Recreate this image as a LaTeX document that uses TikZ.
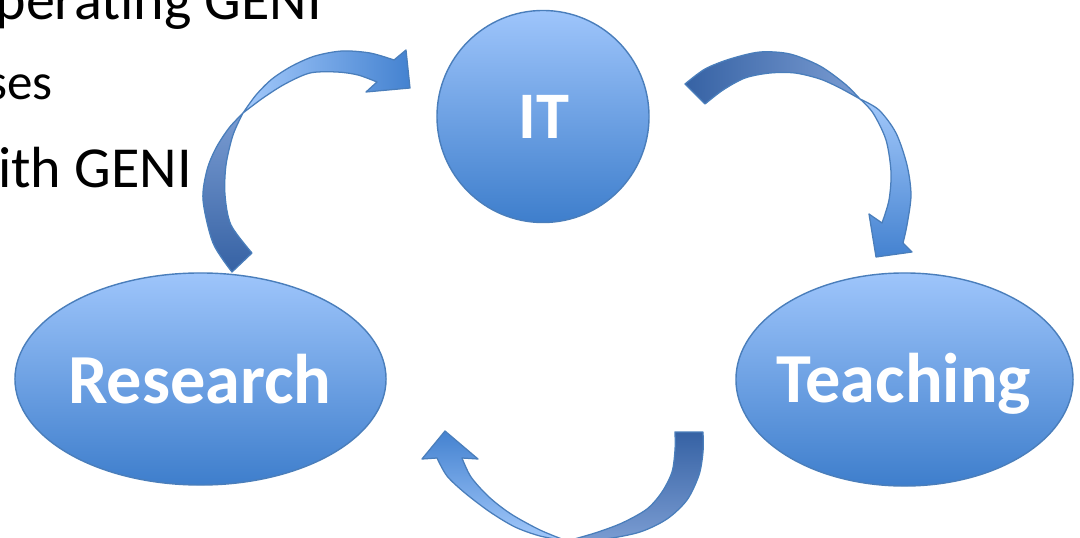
\documentclass[tikz,border=0pt]{standalone}
\usepackage{fontspec}
\setmainfont{Carlito}
\usetikzlibrary{shapes.geometric}

\definecolor{rimblue}{RGB}{74,126,187}
\definecolor{lightblue}{RGB}{158,197,251}
\definecolor{deepblue}{RGB}{62,126,204}
\definecolor{taildark}{RGB}{54,98,164}
\definecolor{headblue}{RGB}{68,130,208}
\definecolor{midgrey}{RGB}{122,156,210}
\definecolor{paleblue}{RGB}{163,201,251}

\begin{document}
\begin{tikzpicture}[x=0.025cm,y=-0.025cm,
  bubble/.style={draw=rimblue, line width=1pt, top color=lightblue,
    bottom color=deepblue, inner sep=0pt},
  bubbletext/.style={anchor=base, inner sep=0pt, text=white,
    font=\bfseries\fontsize{50}{50}\selectfont},
  lobe/.style={draw=rimblue, line width=0.9pt, line join=round},
  bodytext/.style={anchor=base east, inner sep=0pt, text=black},
  bigline/.style={bodytext, font=\fontsize{41.3}{42}\selectfont},
  subline/.style={bodytext, font=\fontsize{36.3}{37}\selectfont}]
\useasboundingbox (0,0) rectangle (1080,538);
\begin{scope}
\clip (0,0) rectangle (1080,538);

% bullet text of the slide behind the cycle
\node[bigline] (l1) at (322,20) {perating GENI};
\node[subline] (l2) at (53,100) {ses};
\node[bigline] (l3) at (192,188) {ith GENI};

% the three stations of the cycle
\node[bubble, circle, minimum size=5.3cm] (it) at (543,116.5) {};
\node[bubble, ellipse, minimum width=9.275cm, minimum height=5.3cm]
      (research) at (200.5,379) {};
\node[bubble, ellipse, minimum width=8.425cm, minimum height=5.325cm]
      (teaching) at (904.5,379.5) {};
\node[bubbletext, font=\bfseries\fontsize{47.3}{48}\selectfont] (itlabel) at (544,139) {IT};
\node[bubbletext] (researchlabel) at (200,403) {Research};
\node[bubbletext] (teachinglabel) at (904,402) {Teaching};

% Research -> IT : twisted ribbon arrow
\draw[lobe, top color=midgrey, bottom color=taildark]
  (232,272) -- plot[smooth] coordinates {(232,272) (213,243) (203,200) (207,170) (216,148) (229,128) (243,113)}
  -- plot[smooth] coordinates {(243,113) (233,135) (226,165) (225,195) (231,225) (252,253)} -- cycle;
\draw[lobe, left color=paleblue, right color=headblue]
  (243,113) -- plot[smooth] coordinates {(243,113) (256,95) (272,79) (292,66) (315,56) (342,51) (370,53) (394,60)}
  -- (406,50) -- (410,88) -- (366,92) -- (377,82)
  -- plot[smooth] coordinates {(377,82) (358,75) (337,72) (310,73) (285,84) (263,98) (243,113)} -- cycle;

% IT -> Teaching
\draw[lobe, left color=taildark, right color=midgrey]
  (685,84) -- plot[smooth] coordinates {(685,84) (705,69) (730,59) (760,52) (790,54) (820,66) (845,84) (860,99)}
  -- plot[smooth] coordinates {(860,99) (840,88) (820,79) (795,73) (770,73) (745,78) (723,90) (705,104)} -- cycle;
\draw[lobe, top color=paleblue, bottom color=headblue]
  (860,99) -- plot[smooth] coordinates {(860,99) (879,110) (896,133) (907,165) (911,195) (907,225) (903,243)}
  -- (912,252) -- (876,257) -- (869,214) -- (882,223)
  -- plot[smooth] coordinates {(882,223) (889,200) (891,172) (886,140) (873,113) (860,99)} -- cycle;

% Teaching -> Research
\draw[lobe, top color=taildark, bottom color=midgrey]
  (675,432) -- (703,432)
  -- plot[smooth] coordinates {(703,432) (703,452) (699,475) (687,500) (667,519) (640,532) (605,539) (567,541)}
  -- plot[smooth] coordinates {(567,541) (595,533) (622,523) (647,509) (662,492) (672,472) (675,450) (675,432)} -- cycle;
\draw[lobe, top color=headblue, bottom color=paleblue]
  (567,541) -- plot[smooth] coordinates {(567,541) (540,536) (515,527) (490,512) (465,493) (447,476) (437,458)}
  -- (422,459) -- (445,431) -- (478,459) -- (462,458)
  -- plot[smooth] coordinates {(462,458) (471,477) (489,497) (511,514) (540,530) (567,541)} -- cycle;
\end{scope}
\end{tikzpicture}
\end{document}
